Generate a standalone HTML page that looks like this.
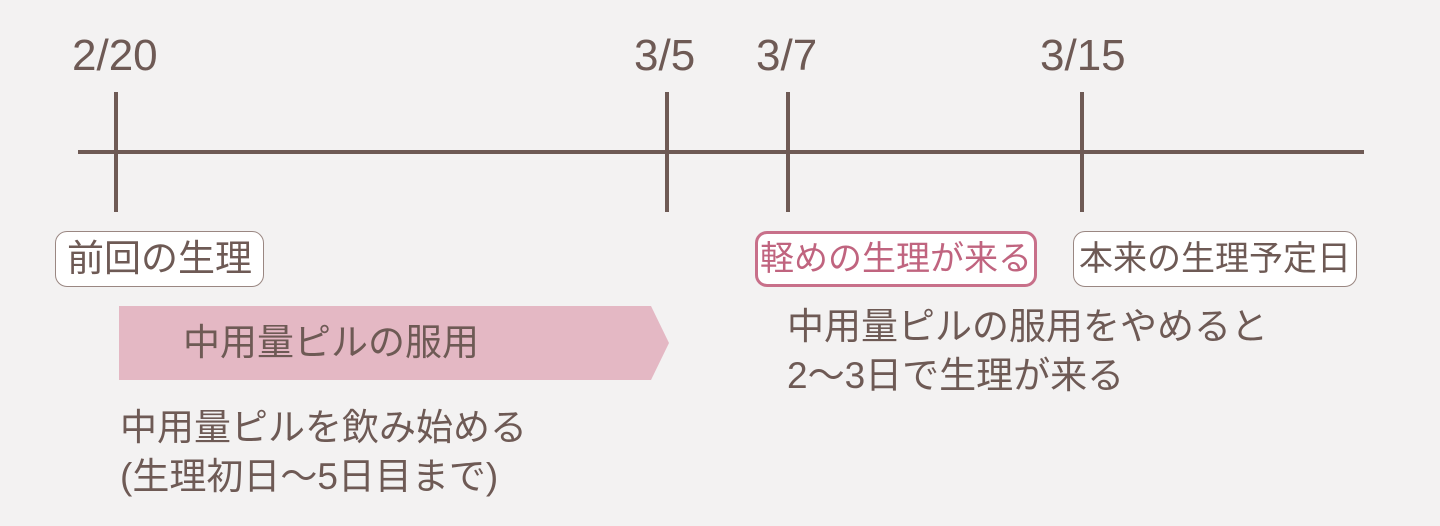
<!DOCTYPE html>
<html><head><meta charset="utf-8"><style>
body{margin:0;width:1440px;height:526px;background:#f3f2f2;position:relative;overflow:hidden;font-family:"Liberation Sans","Noto Sans CJK JP",sans-serif;color:#6e5a55}
.a{position:absolute;white-space:nowrap}
.d{font-size:44px;top:32px;line-height:48px}
.b{position:absolute;background:#fff;border:1.5px solid #9a8782;border-radius:12px;font-size:34px;line-height:54px;height:56px;text-align:center;box-sizing:border-box}
.t{font-size:37px;line-height:49px}
</style></head><body>
<svg class="a" style="left:0;top:0" width="1440" height="526">
<g stroke="#6e5a55" stroke-width="4">
<line x1="78" y1="152" x2="1364" y2="152"/>
<line x1="116" y1="92" x2="116" y2="212"/>
<line x1="667" y1="92" x2="667" y2="212"/>
<line x1="788" y1="92" x2="788" y2="212"/>
<line x1="1082" y1="92" x2="1082" y2="212"/>
</g>
<polygon points="119,306 651,306 669,343 651,380 119,380" fill="#e4b8c4"/>
</svg>
<div class="a d" style="left:72px">2/20</div>
<div class="a d" style="left:634px">3/5</div>
<div class="a d" style="left:756px">3/7</div>
<div class="a d" style="left:1040px">3/15</div>
<div class="b" style="left:55px;top:231px;width:209px;font-size:37px">前回の生理</div>
<div class="b" style="left:755px;top:231px;width:282px;border:3px solid #c8708a;color:#c0647f;line-height:51px">軽めの生理が来る</div>
<div class="b" style="left:1073px;top:231px;width:284px">本来の生理予定日</div>
<div class="a t" style="left:183px;top:318px">中用量ピルの服用</div>
<div class="a t" style="left:120px;top:403px">中用量ピルを飲み始める<br>(生理初日～5日目まで)</div>
<div class="a t" style="left:787px;top:302px">中用量ピルの服用をやめると<br>2～3日で生理が来る</div>
</body></html>
